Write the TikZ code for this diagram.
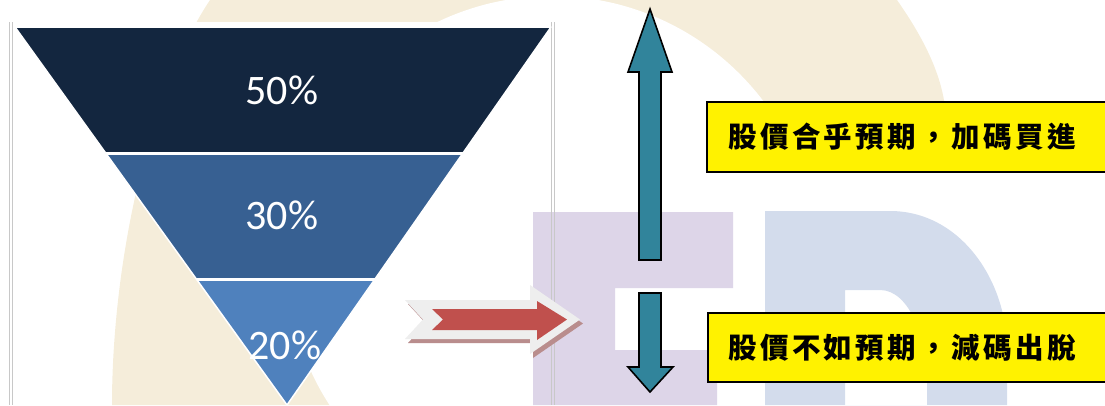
\documentclass[tikz,border=0pt]{standalone}
\usepackage{fontspec}
\setmainfont{Carlito}
\newfontfamily\cjk[LetterSpace=12]{Noto Sans CJK TC}
\definecolor{beige}{RGB}{245,237,218}
\definecolor{lav}{RGB}{221,213,232}
\definecolor{lblue}{RGB}{211,220,236}
\definecolor{navy}{RGB}{19,38,63}
\definecolor{midblue}{RGB}{55,96,146}
\definecolor{ltblue}{RGB}{79,129,189}
\definecolor{teal}{RGB}{49,132,155}
\definecolor{redarrow}{RGB}{192,80,77}
\definecolor{arrowrim}{RGB}{238,238,238}
\definecolor{arrowshadow}{RGB}{185,141,141}
\definecolor{framegrey}{RGB}{200,200,200}
\tikzset{
  pct/.style={text=white, font=\fontsize{42}{46}\selectfont, inner sep=0pt},
  note/.style={font=\cjk\bfseries\fontsize{28.5}{32}\selectfont, inner sep=0pt, anchor=west},
  yellowbox/.style={fill=yellow, draw=black, line width=2pt},
  blockarrow/.style={fill=teal, draw=black, line width=1.6pt, line join=miter},
  framerule/.style={draw=framegrey, line width=0.8pt}
}
\begin{document}
\begin{tikzpicture}[x=1pt,y=-1pt]
\useasboundingbox (0,0) rectangle (1105,405);
\clip (0,0) rectangle (1105,405);
% watermark: beige crescent
\fill[beige] (112,405) .. controls (112,260) and (150,90) .. (210,0) -- (897,0)
  .. controls (925,40) and (945,80) .. (946,120) -- (940,165) -- (790,165) -- (552,261) -- (552,405) -- cycle;
\fill[white] (552,261) circle[radius=265];
% watermark: lavender E
\fill[lav] (533,212) -- (733,212) -- (733,288) -- (615,288) -- (615,350) -- (717,350) -- (717,405) -- (533,405) -- cycle;
% watermark: light blue D
\fill[lblue, even odd rule] (765,211) -- (890,211) .. controls (960,211) and (1007,280) .. (1007,350) -- (1007,405) -- (765,405) -- cycle
  (845,405) -- (845,290) -- (880,290) .. controls (910,290) and (927,340) .. (927,380) -- (927,405) -- cycle;
% frame
\fill[white] (11,22) rectangle (553,27);
\draw[framerule] (9.5,22) -- (9.5,405);
\draw[framerule] (12,22) -- (12,405);
\draw[framerule] (551.5,22) -- (551.5,405);
\draw[framerule] (554,22) -- (554,405);
% funnel
\coordinate (tl) at (15,27);
\coordinate (tr) at (551,27);
\coordinate (apex) at (287,405);
\begin{scope}
  \clip (tl) -- (tr) -- (apex) -- cycle;
  \fill[navy] (0,20) rectangle (560,153.5);
  \fill[midblue] (0,153.5) rectangle (560,279.5);
  \fill[ltblue] (0,279.5) rectangle (560,410);
  \draw[white, line width=3pt] (0,153.5) -- (560,153.5);
  \draw[white, line width=3pt] (0,279.5) -- (560,279.5);
\end{scope}
\draw[white, line width=1.5pt, line join=round] (tl) -- (tr) -- (apex) -- cycle;
\node[pct] (p50) at (282,90) {50\%};
\node[pct] (p30) at (282,215) {30\%};
\node[pct] (p20) at (285,345) {20\%};
% red block arrow
\fill[arrowshadow] (408,304) -- (533,304) -- (533,289) -- (583,323.5) -- (533,358) -- (533,343) -- (408,343) -- (426,323.5) -- cycle;
\fill[arrowrim] (405,300) -- (530,300) -- (530,285) -- (580,319.5) -- (530,354) -- (530,339) -- (405,339) -- (423,319.5) -- cycle;
\fill[redarrow] (432,309) -- (537,309) -- (537,301) -- (567,319.5) -- (537,340) -- (537,330) -- (432,330) -- (443,319.5) -- cycle;
% teal arrows
\draw[blockarrow] (650,9) -- (672,72) -- (661,72) -- (661,260) -- (639,260) -- (639,72) -- (628,72) -- cycle;
\draw[blockarrow] (650,392) -- (673,367) -- (661,367) -- (661,293) -- (639,293) -- (639,367) -- (628,367) -- cycle;
% yellow boxes
\draw[yellowbox] (707,102) rectangle (1115,172);
\draw[yellowbox] (708,313) rectangle (1115,382);
\node[note] (up) at (728,137) {股價合乎預期，加碼買進};
\node[note] (down) at (728,348) {股價不如預期，減碼出脫};
\end{tikzpicture}
\end{document}
